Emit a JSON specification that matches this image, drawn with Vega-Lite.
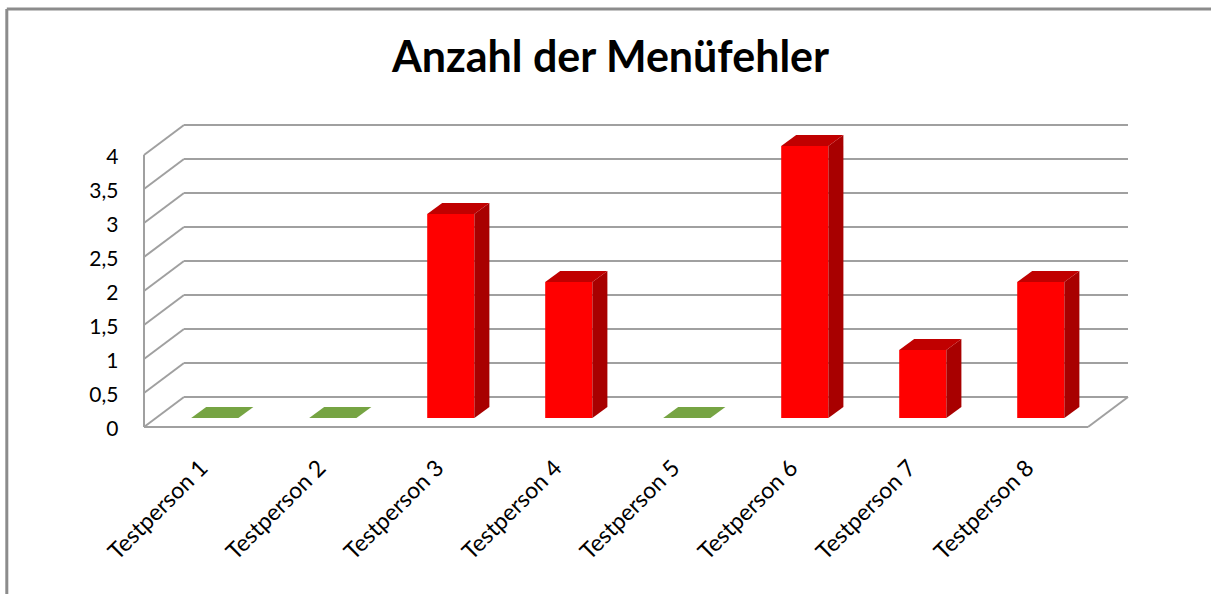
{
  "$schema": "https://vega.github.io/schema/vega-lite/v6.json",
  "autosize": "none",
  "width": 1003,
  "height": 306,
  "padding": {"left": 144, "top": 121, "right": 64, "bottom": 167},
  "background": "white",
  "title": {"text": "Anzahl der Menüfehler", "font": "Lato", "fontSize": 43, "fontWeight": "bold", "color": "black", "anchor": "middle", "dx": -35, "dy": 73, "offset": 0},
  "config": {"view": {"stroke": null}, "axis": {"grid": false, "domain": false, "ticks": false}},
  "resolve": {"axis": {"x": "independent", "y": "independent"}},
  "datasets": {
    "bars": [
      {"person": "Testperson 1", "value": 0},
      {"person": "Testperson 2", "value": 0},
      {"person": "Testperson 3", "value": 3},
      {"person": "Testperson 4", "value": 2},
      {"person": "Testperson 5", "value": 0},
      {"person": "Testperson 6", "value": 4},
      {"person": "Testperson 7", "value": 1},
      {"person": "Testperson 8", "value": 2}
    ],
    "ticks": [
      {"v": 0}, {"v": 0.5}, {"v": 1}, {"v": 1.5}, {"v": 2}, {"v": 2.5}, {"v": 3}, {"v": 3.5}, {"v": 4}
    ],
    "one": [{"k": 1}]
  },
  "layer": [
    {
      "data": {"name": "one"},
      "mark": {"type": "rule", "color": "#8C8C8C", "strokeWidth": 3},
      "encoding": {
        "x": {"datum": -0.7627, "type": "quantitative", "scale": {"domain": [0.4, 8.9], "nice": false, "zero": false}, "axis": null},
        "y": {"datum": -2.6, "type": "quantitative", "scale": {"domain": [0, 4.5], "nice": false, "zero": false}, "axis": null},
        "y2": {"datum": 6.147}
      }
    },
    {
      "data": {"name": "one"},
      "mark": {"type": "rule", "color": "#8C8C8C", "strokeWidth": 3},
      "encoding": {
        "x": {"datum": -0.7627, "type": "quantitative", "axis": null},
        "x2": {"datum": 9.6},
        "y": {"datum": 6.147, "type": "quantitative", "axis": null}
      }
    },
    {
      "data": {"name": "ticks"},
      "transform": [{"calculate": "datum.v + 0.4412", "as": "vb"}],
      "mark": {"type": "rule", "color": "#A0A0A0", "strokeWidth": 2},
      "encoding": {
        "x": {"datum": 0.739, "type": "quantitative", "axis": null},
        "x2": {"datum": 8.739},
        "y": {"field": "vb", "type": "quantitative", "axis": null}
      }
    },
    {
      "data": {"name": "ticks"},
      "transform": [{"calculate": "datum.v + 0.4412", "as": "vb"}],
      "mark": {"type": "rule", "color": "#A0A0A0", "strokeWidth": 2},
      "encoding": {
        "x": {"datum": 0.4, "type": "quantitative", "axis": null},
        "x2": {"datum": 0.739},
        "y": {"field": "v", "type": "quantitative", "axis": null},
        "y2": {"field": "vb"}
      }
    },
    {
      "data": {"name": "one"},
      "mark": {"type": "rule", "color": "#A0A0A0", "strokeWidth": 2},
      "encoding": {
        "x": {"datum": 0.4, "type": "quantitative", "axis": null},
        "x2": {"datum": 8.4},
        "y": {"datum": 0, "type": "quantitative", "axis": null}
      }
    },
    {
      "data": {"name": "one"},
      "mark": {"type": "rule", "color": "#A0A0A0", "strokeWidth": 2},
      "encoding": {
        "x": {"datum": 8.4, "type": "quantitative", "axis": null},
        "x2": {"datum": 8.739},
        "y": {"datum": 0, "type": "quantitative", "axis": null},
        "y2": {"datum": 0.4412}
      }
    },
    {
      "data": {"name": "one"},
      "mark": {"type": "rule", "color": "#A0A0A0", "strokeWidth": 2},
      "encoding": {
        "x": {"datum": 0.4, "type": "quantitative", "axis": null},
        "y": {"datum": 0, "type": "quantitative", "axis": null},
        "y2": {"datum": 4}
      }
    },
    {
      "data": {"name": "bars"},
      "transform": [
        {"window": [{"op": "row_number", "as": "i"}]},
        {"filter": "datum.value > 0"},
        {"calculate": "datum.i - 0.2", "as": "fx"},
        {"calculate": "datum.i + 0.2", "as": "fx2"},
        {"calculate": "0.1324", "as": "fy"},
        {"calculate": "0.1324 + datum.value", "as": "fy2"}
      ],
      "mark": {"type": "rect", "color": "#FF0000"},
      "encoding": {
        "x": {"field": "fx", "type": "quantitative",
              "axis": {"values": [1, 2, 3, 4, 5, 6, 7, 8], "labelExpr": "'Testperson ' + datum.value", "labelAngle": -45, "labelAlign": "right", "labelBaseline": "middle", "labelPadding": 37, "labelOffset": -11, "labelFont": "Lato", "labelFontSize": 23, "labelColor": "black", "title": null, "labelOverlap": false, "labelBound": false}},
        "x2": {"field": "fx2"},
        "y": {"field": "fy", "type": "quantitative",
              "axis": {"values": [0, 0.5, 1, 1.5, 2, 2.5, 3, 3.5, 4], "labelExpr": "replace(toString(datum.value), '.', ',')", "labelPadding": 26, "labelOffset": 2, "labelFont": "Lato", "labelFontSize": 21, "labelColor": "black", "title": null, "labelOverlap": false}},
        "y2": {"field": "fy2"}
      }
    },
    {
      "data": {"name": "bars"},
      "transform": [
        {"window": [{"op": "row_number", "as": "i"}]},
        {"filter": "datum.value > 0"},
        {"calculate": "0", "as": "t0"},
        {"calculate": "1", "as": "t1"},
        {"fold": ["t0", "t1"], "as": ["k", "t"]},
        {"calculate": "datum.i + 0.2 + datum.t * 0.1271", "as": "sx"},
        {"calculate": "0.1324 + datum.value + datum.t * 0.1618", "as": "sy"},
        {"calculate": "0.1324 + datum.t * 0.1618", "as": "sy2"}
      ],
      "mark": {"type": "area", "color": "#A80000", "orient": "vertical"},
      "encoding": {
        "x": {"field": "sx", "type": "quantitative", "axis": null},
        "y": {"field": "sy", "type": "quantitative", "axis": null},
        "y2": {"field": "sy2"},
        "detail": {"field": "person"}
      }
    },
    {
      "data": {"name": "bars"},
      "transform": [
        {"window": [{"op": "row_number", "as": "i"}]},
        {"calculate": "0", "as": "t0"},
        {"calculate": "1", "as": "t1"},
        {"fold": ["t0", "t1"], "as": ["k", "t"]},
        {"calculate": "datum.i - 0.2 + datum.t * 0.1271", "as": "tx"},
        {"calculate": "datum.i + 0.2 + datum.t * 0.1271", "as": "tx2"},
        {"calculate": "0.1324 + datum.value + datum.t * 0.1618", "as": "ty"}
      ],
      "mark": {"type": "area", "orient": "horizontal"},
      "encoding": {
        "y": {"field": "ty", "type": "quantitative", "axis": null},
        "x": {"field": "tx", "type": "quantitative", "axis": null},
        "x2": {"field": "tx2"},
        "detail": {"field": "person"},
        "color": {"condition": {"test": "datum.value == 0", "value": "#76A443"}, "value": "#C00000"}
      }
    }
  ]
}
